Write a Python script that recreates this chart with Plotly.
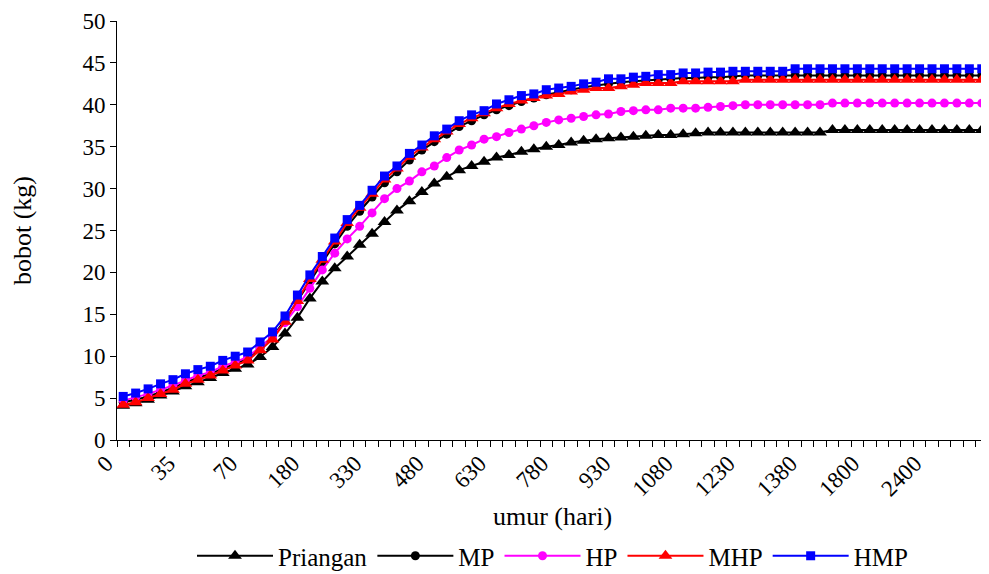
import plotly.graph_objects as go

# umur (hari) categories
days = [0, 7, 14, 21, 28, 35, 42, 49, 56, 63,
        70, 90, 110, 130, 150, 180, 210, 240, 270, 300,
        330, 360, 390, 420, 450, 480, 510, 540, 570, 600,
        630, 660, 690, 720, 750, 780, 810, 840, 870, 900,
        930, 960, 990, 1020, 1050, 1080, 1110, 1140, 1170, 1200,
        1230, 1260, 1290, 1320, 1350, 1380, 1440, 1500, 1560, 1680,
        1800, 1920, 2040, 2160, 2280, 2400, 2520, 2640, 2760, 2880]

priangan = [4.1, 4.4, 4.8, 5.3, 5.8, 6.4, 6.9, 7.4, 8.0, 8.5,
            9.0, 9.9, 11.1, 12.7, 14.6, 16.9, 18.9, 20.5, 21.9, 23.3,
            24.6, 26.0, 27.4, 28.5, 29.6, 30.6, 31.4, 32.2, 32.7, 33.2,
            33.7, 34.0, 34.4, 34.7, 35.0, 35.2, 35.5, 35.7, 35.9, 36.0,
            36.1, 36.2, 36.3, 36.4, 36.4, 36.5, 36.6, 36.7, 36.7, 36.7,
            36.7, 36.7, 36.7, 36.7, 36.7, 36.7, 36.7, 37.0, 37.0, 37.0,
            37.0, 37.0, 37.0, 37.0, 37.0, 37.0, 37.0, 37.0, 37.0, 37.0]

mp = [4.5, 4.8, 5.2, 5.7, 6.2, 6.9, 7.4, 7.9, 8.5, 9.1,
      9.7, 11.0, 12.3, 14.3, 16.6, 19.0, 21.2, 23.4, 25.5, 27.3,
      29.0, 30.7, 32.0, 33.4, 34.6, 35.6, 36.5, 37.4, 38.1, 38.8,
      39.4, 39.9, 40.4, 40.8, 41.2, 41.5, 41.8, 42.1, 42.3, 42.5,
      42.7, 42.8, 42.9, 43.0, 43.1, 43.2, 43.2, 43.3, 43.3, 43.4,
      43.5, 43.5, 43.5, 43.5, 43.5, 43.5, 43.5, 43.5, 43.5, 43.5,
      43.5, 43.5, 43.5, 43.5, 43.5, 43.5, 43.5, 43.5, 43.5, 43.5]

hp = [4.7, 5.1, 5.5, 6.0, 6.5, 7.1, 7.7, 8.1, 8.8, 9.3,
      9.9, 11.1, 12.3, 14.0, 15.9, 18.1, 20.3, 22.3, 24.0, 25.5,
      27.1, 28.8, 30.0, 30.9, 32.0, 32.7, 33.7, 34.6, 35.2, 35.9,
      36.2, 36.7, 37.1, 37.5, 37.9, 38.2, 38.4, 38.6, 38.8, 38.9,
      39.2, 39.3, 39.4, 39.4, 39.6, 39.6, 39.6, 39.7, 39.8, 39.9,
      40.0, 40.0, 40.0, 40.0, 40.0, 40.0, 40.0, 40.2, 40.2, 40.2,
      40.2, 40.2, 40.2, 40.2, 40.2, 40.2, 40.2, 40.2, 40.2, 40.2]

mhp = [4.2, 4.5, 5.0, 5.5, 6.0, 6.7, 7.2, 7.7, 8.3, 8.9,
       9.5, 10.7, 12.0, 14.1, 16.6, 19.2, 21.5, 23.7, 25.9, 27.7,
       29.4, 31.1, 32.4, 33.8, 34.9, 35.9, 36.8, 37.7, 38.4, 39.0,
       39.6, 40.1, 40.5, 40.8, 41.1, 41.3, 41.6, 41.8, 42.0, 42.0,
       42.2, 42.4, 42.6, 42.6, 42.6, 42.8, 42.8, 42.8, 42.8, 42.8,
       43.0, 43.0, 43.0, 43.0, 43.0, 43.0, 43.0, 43.0, 43.0, 43.0,
       43.0, 43.0, 43.0, 43.0, 43.0, 43.0, 43.0, 43.0, 43.0, 43.0]

hmp = [5.2, 5.6, 6.1, 6.7, 7.2, 7.9, 8.4, 8.8, 9.5, 10.0,
       10.5, 11.7, 12.9, 14.8, 17.3, 19.7, 21.9, 24.1, 26.3, 28.0,
       29.8, 31.5, 32.7, 34.2, 35.2, 36.3, 37.1, 38.1, 38.8, 39.3,
       40.1, 40.6, 41.1, 41.3, 41.8, 42.0, 42.2, 42.5, 42.7, 43.1,
       43.1, 43.3, 43.4, 43.6, 43.6, 43.8, 43.8, 43.9, 43.9, 44.0,
       44.0, 44.0, 44.0, 44.0, 44.3, 44.3, 44.3, 44.3, 44.3, 44.3,
       44.3, 44.3, 44.3, 44.3, 44.3, 44.3, 44.3, 44.3, 44.3, 44.3]

series_names = ["Priangan", "MP", "HP", "MHP", "HMP"]
series_values = [priangan, mp, hp, mhp, hmp]
y_ticks = [0, 5, 10, 15, 20, 25, 30, 35, 40, 45, 50]

styles = [
    dict(color="black", symbol="triangle-up", size=12),
    dict(color="black", symbol="circle", size=9),
    dict(color="#FF00FF", symbol="circle", size=9),
    dict(color="#FF0000", symbol="triangle-up", size=12),
    dict(color="#0000FF", symbol="square", size=9),
]

idx = list(range(len(days)))
label_idx = idx[::5]
label_txt = [str(days[i]) for i in label_idx]

FONT = "Liberation Serif"

fig = go.Figure()
for name, vals, st in zip(series_names, series_values, styles):
    fig.add_trace(go.Scatter(
        x=idx, y=vals, name=name, mode="lines+markers",
        line=dict(color=st["color"], width=2),
        marker=dict(color=st["color"], symbol=st["symbol"], size=st["size"],
                    line=dict(width=0)),
    ))

# page has an 8px body margin, so the figure is sized to fit the window
fig.update_layout(
    width=981, height=566,
    margin=dict(l=109, r=1, t=13, b=134, autoexpand=False),
    paper_bgcolor="white", plot_bgcolor="white",
    font=dict(family=FONT, color="black", size=22),
    showlegend=True,
    legend=dict(orientation="h", x=0.5, xanchor="center", y=-0.222, yanchor="top",
                font=dict(family=FONT, size=25), itemwidth=76,
                traceorder="normal"),
)
fig.update_xaxes(
    range=[-0.5, len(days) - 0.5], showgrid=False, zeroline=False,
    automargin=False,
    showline=True, linecolor="black", linewidth=1,
    tickmode="array", tickvals=label_idx, ticktext=label_txt,
    ticks="", tickangle=-45, tickfont=dict(family=FONT, size=23),
    ticklabelshift=-17,
    minor=dict(tickmode="array", tickvals=[i - 0.5 for i in range(len(days) + 1)],
               ticks="outside", ticklen=6, tickcolor="black", tickwidth=1),
    title=dict(text="umur (hari)", font=dict(family=FONT, size=26), standoff=6),
)
fig.update_yaxes(
    range=[0, 50], showgrid=False, zeroline=False,
    automargin=False,
    showline=True, linecolor="black", linewidth=1,
    tickmode="array", tickvals=y_ticks, ticks="outside", ticklen=6,
    tickcolor="black", tickfont=dict(family=FONT, size=23),
    title=dict(text="bobot (kg)", font=dict(family=FONT, size=26), standoff=55),
)

fig.write_html("out.html")
